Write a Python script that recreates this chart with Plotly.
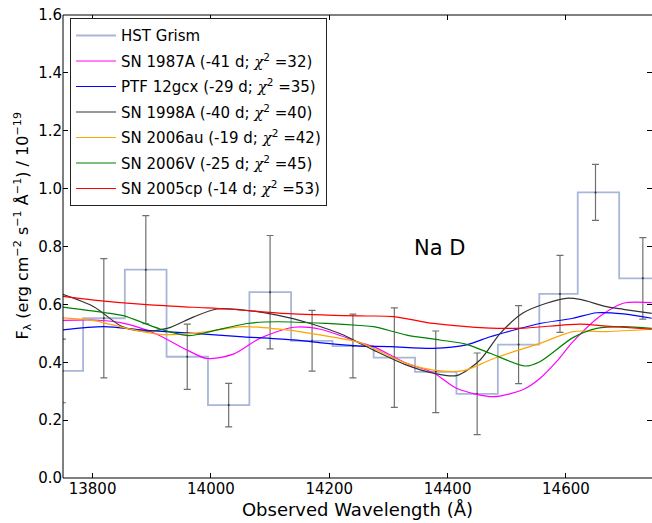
import plotly.graph_objects as go

# ---- data ----
wave_hst = [13749, 13819, 13890, 13960, 14030, 14100, 14171, 14240, 14310, 14380, 14450, 14520, 14590, 14650, 14730, 14810]
flux_hst = [0.370, 0.552, 0.720, 0.419, 0.252, 0.642, 0.474, 0.456, 0.416, 0.367, 0.291, 0.461, 0.636, 0.987, 0.690, 0.690]
err_hst = [0.110, 0.206, 0.187, 0.113, 0.075, 0.196, 0.105, 0.110, 0.172, 0.141, 0.141, 0.135, 0.133, 0.097, 0.141, 0.140]

wave_87a = [13745, 13802, 13847, 13903, 13960, 13993, 14038, 14083, 14140, 14185, 14252, 14275, 14331, 14376, 14415, 14477, 14528, 14556, 14584, 14612, 14657, 14697, 14745]
flux_87a = [0.544, 0.546, 0.537, 0.502, 0.442, 0.413, 0.428, 0.483, 0.521, 0.514, 0.468, 0.454, 0.396, 0.364, 0.310, 0.281, 0.306, 0.344, 0.402, 0.471, 0.558, 0.604, 0.606]

wave_ptf = [13745, 13819, 13886, 13971, 14055, 14140, 14196, 14252, 14303, 14376, 14432, 14472, 14517, 14556, 14612, 14652, 14697, 14745]
flux_ptf = [0.511, 0.523, 0.511, 0.500, 0.488, 0.477, 0.465, 0.456, 0.454, 0.448, 0.460, 0.488, 0.514, 0.534, 0.552, 0.571, 0.567, 0.552]

wave_98a = [13745, 13802, 13850, 13886, 13926, 13971, 14010, 14044, 14112, 14168, 14224, 14252, 14275, 14331, 14376, 14415, 14455, 14489, 14528, 14567, 14601, 14624, 14669, 14697, 14745]
flux_98a = [0.638, 0.592, 0.523, 0.508, 0.517, 0.557, 0.584, 0.583, 0.563, 0.534, 0.494, 0.465, 0.442, 0.390, 0.362, 0.354, 0.408, 0.500, 0.571, 0.604, 0.621, 0.617, 0.592, 0.583, 0.569]

wave_06au = [13745, 13802, 13858, 13914, 13971, 14055, 14112, 14168, 14252, 14275, 14331, 14376, 14427, 14472, 14517, 14556, 14612, 14669, 14745]
flux_06au = [0.554, 0.544, 0.517, 0.496, 0.500, 0.523, 0.515, 0.500, 0.468, 0.448, 0.396, 0.373, 0.371, 0.408, 0.440, 0.465, 0.506, 0.506, 0.514]

wave_06v = [13745, 13830, 13852, 13914, 13962, 13999, 14061, 14112, 14196, 14252, 14275, 14331, 14387, 14432, 14472, 14531, 14556, 14612, 14652, 14697, 14745]
flux_06v = [0.592, 0.569, 0.561, 0.515, 0.492, 0.506, 0.534, 0.540, 0.534, 0.527, 0.523, 0.494, 0.477, 0.462, 0.431, 0.387, 0.402, 0.485, 0.517, 0.523, 0.517]

wave_05cp = [13745, 13802, 13886, 13971, 14027, 14083, 14140, 14196, 14252, 14309, 14376, 14472, 14528, 14624, 14669, 14745]
flux_05cp = [0.629, 0.615, 0.600, 0.590, 0.584, 0.575, 0.567, 0.563, 0.560, 0.558, 0.534, 0.518, 0.518, 0.532, 0.525, 0.514]

x_ticks = [13800, 14000, 14200, 14400, 14600]
y_ticks = [0, 0.2, 0.4, 0.6, 0.8, 1.0, 1.2, 1.4, 1.6]

chi = "<span style=\"font-family:'DejaVu Serif';font-style:italic\">χ</span><sup>2</sup>"
models = [
    ("SN 1987A (-41 d; " + chi + " =32)", wave_87a, flux_87a, "#ff00ff"),
    ("PTF 12gcx (-29 d; " + chi + " =35)", wave_ptf, flux_ptf, "#0000ff"),
    ("SN 1998A (-40 d; " + chi + " =40)", wave_98a, flux_98a, "#333333"),
    ("SN 2006au (-19 d; " + chi + " =42)", wave_06au, flux_06au, "#ffa500"),
    ("SN 2006V (-25 d; " + chi + " =45)", wave_06v, flux_06v, "#008000"),
    ("SN 2005cp (-14 d; " + chi + " =53)", wave_05cp, flux_05cp, "#ff0000"),
]

fig = go.Figure()
fig.add_trace(go.Scatter(
    x=wave_hst, y=flux_hst, mode="lines", line=dict(shape="hvh", color="rgba(110,135,190,0.6)", width=1.8),
    name="HST Grism", legendgroup="g0"))
fig.add_trace(go.Scatter(
    x=wave_hst, y=flux_hst, mode="markers", marker=dict(size=2, color="#333333"),
    error_y=dict(type="data", array=err_hst, color="#707070", thickness=1.2, width=3.5),
    showlegend=False, hoverinfo="skip", legendgroup="g0"))
for i, (name, w, f, c) in enumerate(models):
    fig.add_trace(go.Scatter(x=w, y=f, mode="lines", name=name, legendgroup="g%d" % (i + 1),
                             line=dict(color=c, width=1.2, shape="spline", smoothing=0.8)))

fig.add_annotation(x=14340, y=0.745, xref="x", yref="y", text="Na D", showarrow=False,
                   xanchor="left", yanchor="bottom", font=dict(size=21, color="black"))

# y-axis title as rotated text
fig.add_annotation(x=-0.068, y=0.545, xref="paper", yref="paper", textangle=-90, showarrow=False,
                   text="F<sub>λ</sub> (erg cm<sup>−2</sup> s<sup>−1</sup> Å<sup>−1</sup>) / 10<sup>−19</sup>",
                   xanchor="center", yanchor="middle", font=dict(size=16, color="black"))

# spines (left, bottom, top); right spine lies just outside the picture
for x0, y0, x1, y1 in [(0, 0, 0, 1), (0, 0, 1, 0), (0, 1, 1, 1)]:
    fig.add_shape(type="line", xref="paper", yref="paper", x0=x0, y0=y0, x1=x1, y1=y1,
                  line=dict(color="black", width=1), layer="above")

axis_common = dict(showline=False, mirror="ticks",
                   ticks="inside", ticklen=5, tickcolor="black", showgrid=False, zeroline=False,
                   tickfont=dict(size=15, color="black"))
fig.update_xaxes(range=[13750, 14745.5], tickvals=x_ticks, tickformat="d",
                 title=dict(text="Observed Wavelength (Å)", font=dict(size=18, color="black"), standoff=6),
                 **axis_common)
fig.update_yaxes(range=[0, 1.6], tickvals=y_ticks, tickformat=".1f", **axis_common)

fig.update_layout(
    width=652, height=523,
    margin=dict(l=63, r=0, t=15, b=45),
    plot_bgcolor="white", paper_bgcolor="white",
    font=dict(family="DejaVu Sans", color="black"),
    legend=dict(x=0.012, y=0.993, xanchor="left", yanchor="top", bgcolor="white",
                bordercolor="#222222", borderwidth=1, font=dict(size=15, color="black"),
                itemwidth=40, traceorder="grouped", tracegroupgap=3),
)

fig.write_html("out.html")
